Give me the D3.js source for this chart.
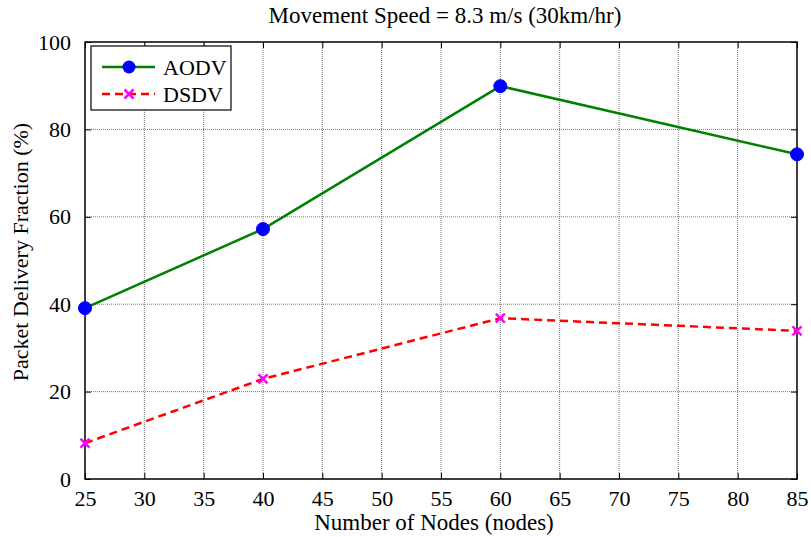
<!DOCTYPE html>
<html>
<head>
<meta charset="utf-8">
<script src="https://cdn.jsdelivr.net/npm/d3@7"></script>
<style>
  body { margin: 0; background: #fff; }
  svg text { font-family: "Liberation Serif", "Times New Roman", serif; fill: #000; }
</style>
</head>
<body>
<div id="chart"></div>
<script>
// data
var nodes = [25, 40, 60, 85];
var aodv = [39.1, 57.2, 89.9, 74.3];
var dsdv = [8.2, 22.9, 36.8, 33.9];
var xTicks = [25, 30, 35, 40, 45, 50, 55, 60, 65, 70, 75, 80, 85];
var yTicks = [0, 20, 40, 60, 80, 100];
var seriesNames = ["AODV", "DSDV"];

var W = 811, H = 537;
var margin = {top: 42, right: 14, bottom: 58, left: 85};
var w = W - margin.left - margin.right,
    h = H - margin.top - margin.bottom;
var serif = "'Liberation Serif', 'Times New Roman', serif";

var svg = d3.select("#chart").append("svg")
  .attr("width", W)
  .attr("height", H);

var g = svg.append("g")
  .attr("transform", "translate(" + margin.left + "," + margin.top + ")");

var x = d3.scaleLinear().domain([25, 85]).range([0, w]);
var y = d3.scaleLinear().domain([0, 100]).range([h, 0]);

// grid (dotted)
g.append("g").selectAll("line")
  .data(xTicks.slice(1, -1))
  .enter().append("line")
  .attr("x1", function(d) { return x(d); })
  .attr("x2", function(d) { return x(d); })
  .attr("y1", 0).attr("y2", h)
  .style("stroke", "#777").style("stroke-width", 1)
  .style("stroke-dasharray", "1,1");

g.append("g").selectAll("line")
  .data(yTicks.slice(1, -1))
  .enter().append("line")
  .attr("x1", 0).attr("x2", w)
  .attr("y1", function(d) { return y(d); })
  .attr("y2", function(d) { return y(d); })
  .style("stroke", "#777").style("stroke-width", 1)
  .style("stroke-dasharray", "1,1");

// axes with inward ticks
var xAxis = d3.axisBottom(x).tickValues(xTicks).tickSizeInner(-6).tickSizeOuter(0).tickPadding(11);
var yAxis = d3.axisLeft(y).tickValues(yTicks).tickSizeInner(-6).tickSizeOuter(0).tickPadding(14);
var xAxisTop = d3.axisTop(x).tickValues(xTicks).tickSizeInner(-6).tickSizeOuter(0).tickFormat("");
var yAxisRight = d3.axisRight(y).tickValues(yTicks).tickSizeInner(-6).tickSizeOuter(0).tickFormat("");

function styleAxis(sel) {
  sel.attr("font-family", serif).attr("font-size", 22);
  sel.select(".domain").remove();
  sel.selectAll(".tick line").style("stroke", "#000");
  sel.selectAll("text").style("font-size", "22px").style("font-family", serif);
}

g.append("g").attr("transform", "translate(0," + h + ")").call(xAxis).call(styleAxis);
g.append("g").call(yAxis).call(styleAxis);
g.append("g").call(xAxisTop).call(styleAxis);
g.append("g").attr("transform", "translate(" + w + ",0)").call(yAxisRight).call(styleAxis);

// frame
g.append("rect")
  .attr("width", w).attr("height", h)
  .style("fill", "none").style("stroke", "#000").style("stroke-width", 1.5);

var line = d3.line()
  .x(function(d, i) { return x(nodes[i]); })
  .y(function(d) { return y(d); });

// AODV
g.append("path").datum(aodv)
  .attr("d", line)
  .style("fill", "none").style("stroke", "#008000").style("stroke-width", 2.5);
g.selectAll(".aodvDot").data(aodv).enter().append("circle")
  .attr("class", "aodvDot")
  .attr("cx", function(d, i) { return x(nodes[i]); })
  .attr("cy", function(d) { return y(d); })
  .attr("r", 6.5)
  .style("fill", "#0000ff").style("stroke", "#0000ff");

// DSDV
g.append("path").datum(dsdv)
  .attr("d", line)
  .style("fill", "none").style("stroke", "#ff0000").style("stroke-width", 2.5)
  .style("stroke-dasharray", "8,5");

function cross(sel, s) {
  sel.attr("d", "M" + (-s) + "," + (-s) + "L" + s + "," + s + "M" + (-s) + "," + s + "L" + s + "," + (-s))
    .style("stroke", "#ff00ff").style("stroke-width", 2.5).style("fill", "none");
}
g.selectAll(".dsdvMark").data(dsdv).enter().append("path")
  .attr("class", "dsdvMark")
  .attr("transform", function(d, i) { return "translate(" + x(nodes[i]) + "," + y(d) + ")"; })
  .call(cross, 4.5);

// legend
var lg = g.append("g").attr("transform", "translate(6,4)");
lg.append("rect")
  .attr("width", 140).attr("height", 64)
  .style("fill", "#fff").style("stroke", "#000").style("stroke-width", 1.2);

var l1 = lg.append("g").attr("transform", "translate(0,21)");
l1.append("line").attr("x1", 11).attr("x2", 64).attr("y1", 0).attr("y2", 0)
  .style("stroke", "#008000").style("stroke-width", 2.5);
l1.append("circle").attr("cx", 38).attr("cy", 0).attr("r", 6.5).style("fill", "#0000ff");
l1.append("text").attr("x", 72).attr("y", 0).attr("dy", "0.35em")
  .style("font-size", "22px").style("font-family", serif).text(seriesNames[0]);

var l2 = lg.append("g").attr("transform", "translate(0,48)");
l2.append("line").attr("x1", 11).attr("x2", 64).attr("y1", 0).attr("y2", 0)
  .style("stroke", "#ff0000").style("stroke-width", 2.5).style("stroke-dasharray", "8,5");
l2.append("path").attr("transform", "translate(38,0)").call(cross, 4.5);
l2.append("text").attr("x", 72).attr("y", 0).attr("dy", "0.35em")
  .style("font-size", "22px").style("font-family", serif).text(seriesNames[1]);

// title and axis labels
svg.append("text")
  .attr("x", 445).attr("y", 23)
  .attr("text-anchor", "middle")
  .style("font-size", "23px").style("font-family", serif)
  .text("Movement Speed = 8.3 m/s (30km/hr)");

svg.append("text")
  .attr("x", 434).attr("y", 530)
  .attr("text-anchor", "middle")
  .style("font-size", "23px").style("font-family", serif)
  .text("Number of Nodes (nodes)");

svg.append("text")
  .attr("transform", "translate(28,252) rotate(-90)")
  .attr("text-anchor", "middle")
  .style("font-size", "22px").style("font-family", serif)
  .text("Packet Delivery Fraction (%)");
</script>
</body>
</html>
